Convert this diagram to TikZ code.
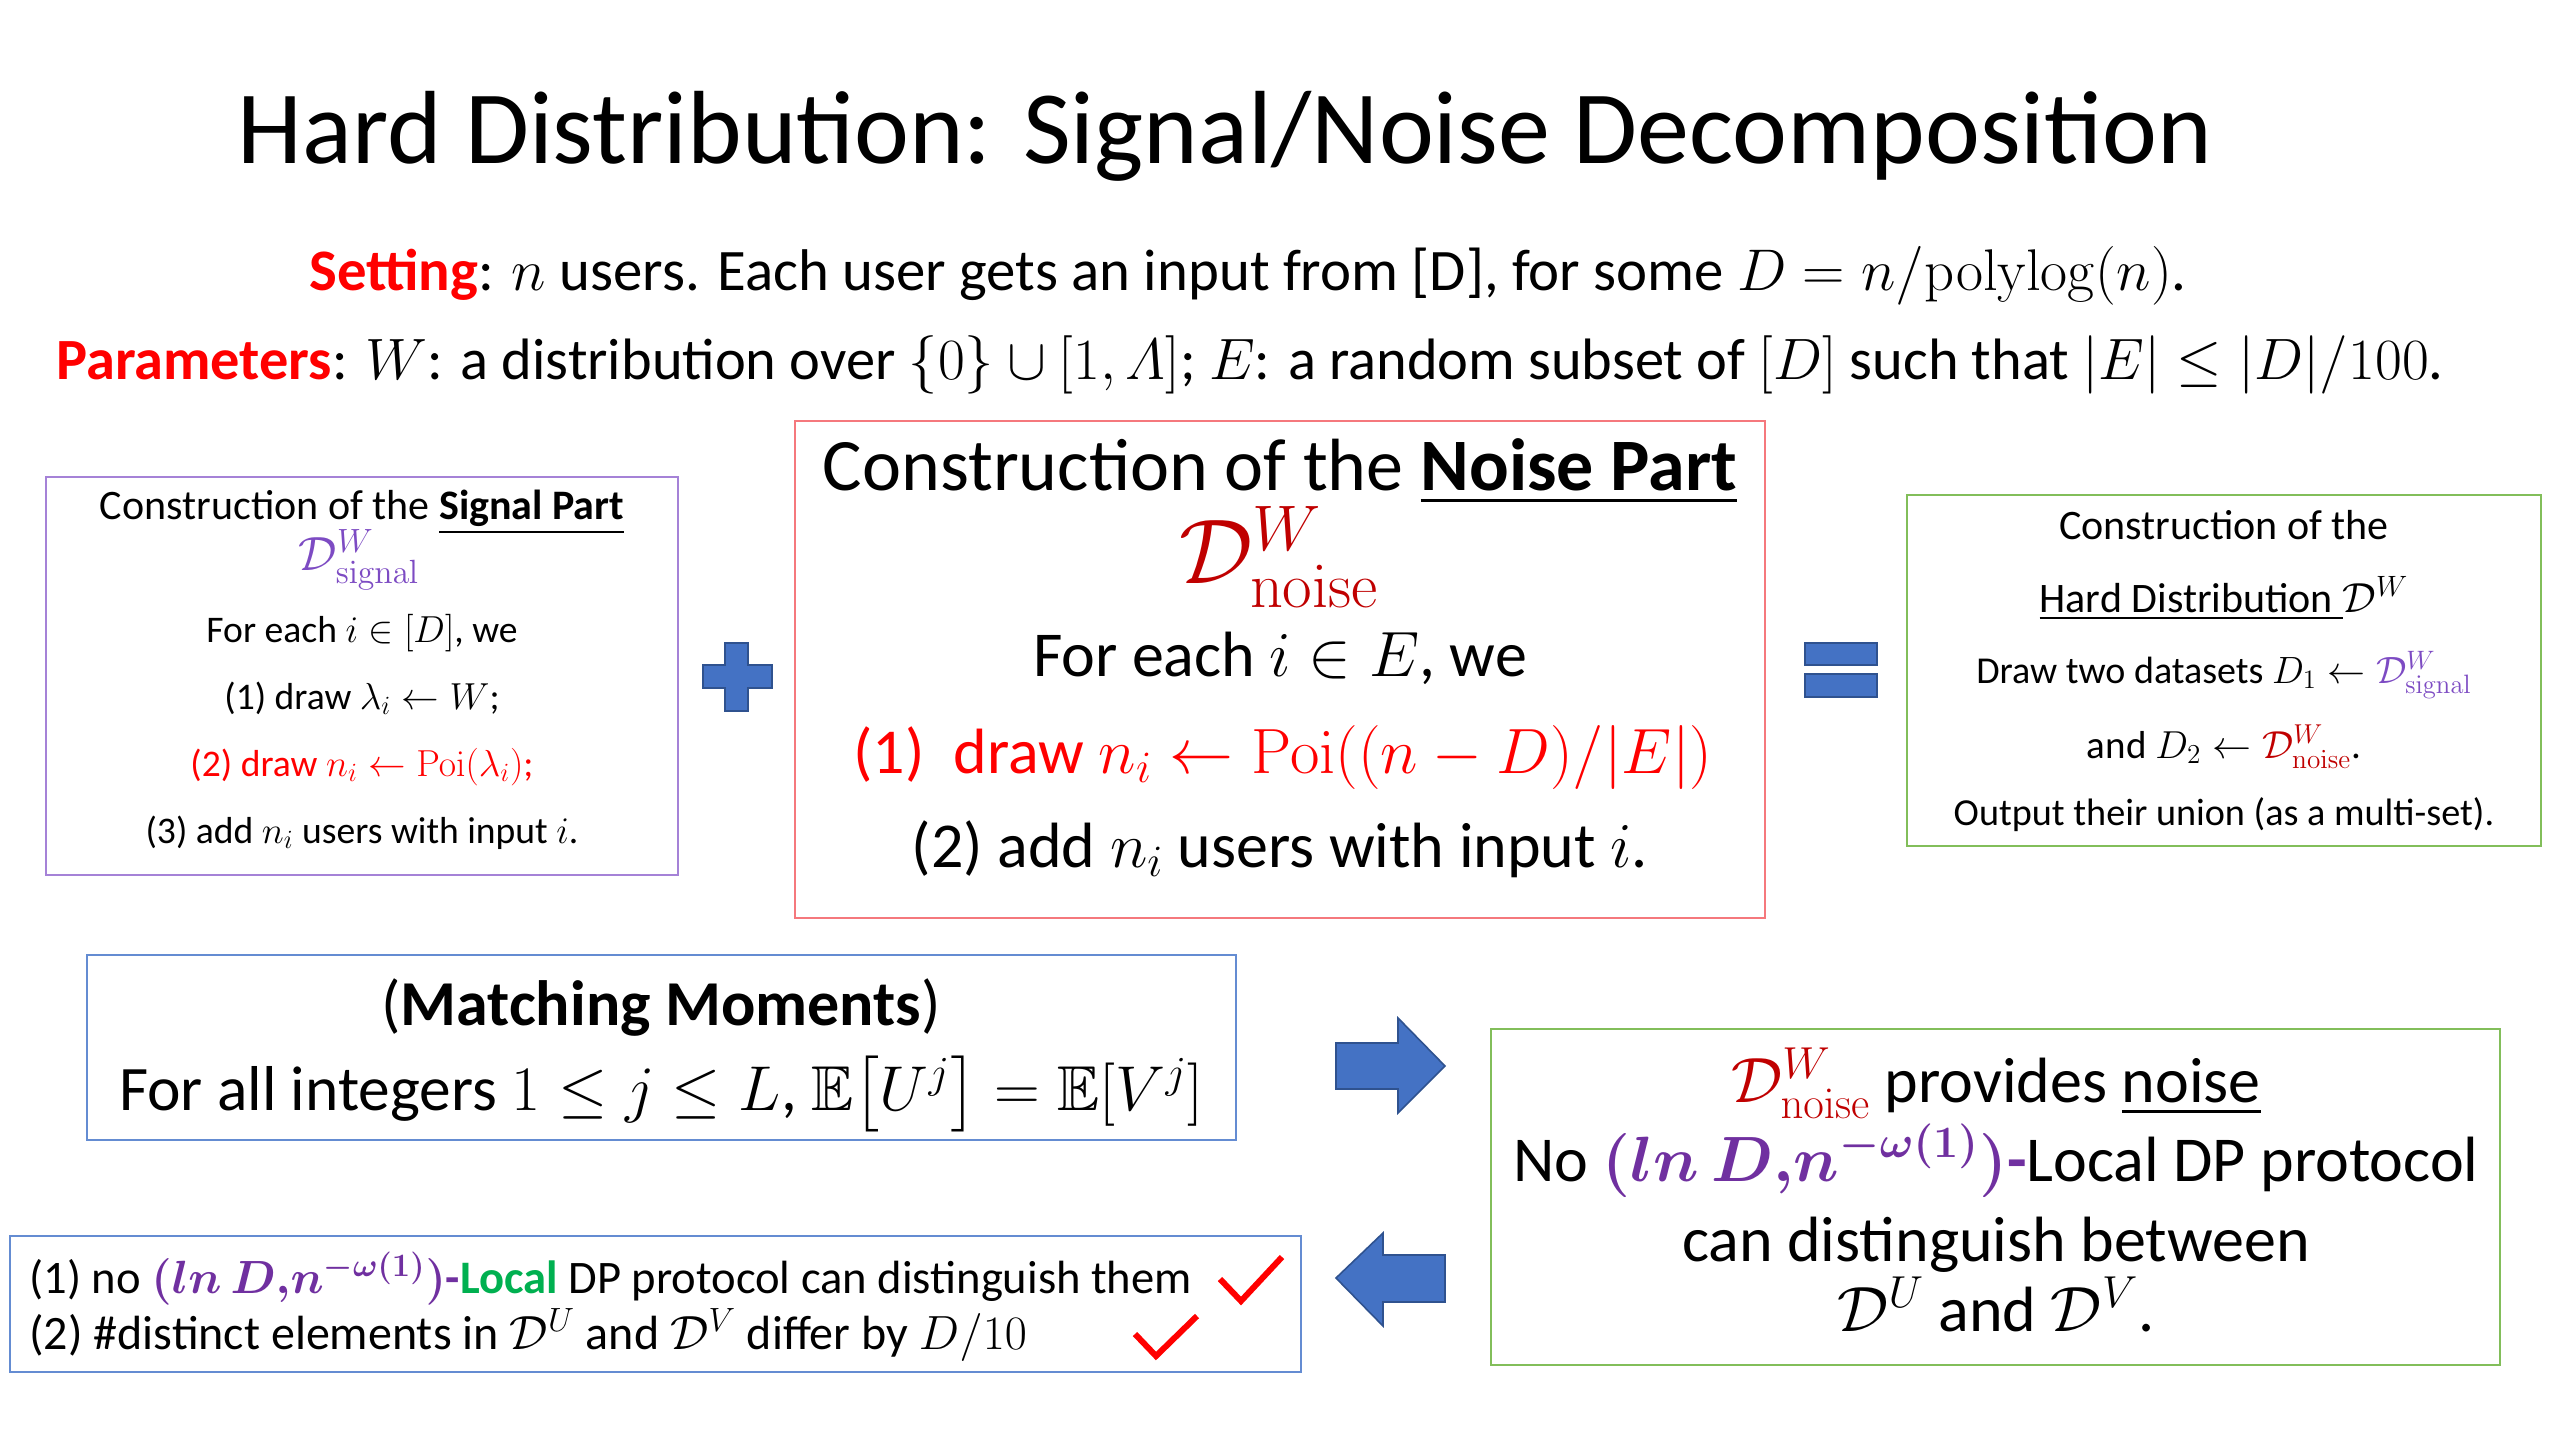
\RequirePackage{fix-cm}
\documentclass[tikz,border=0pt]{standalone}
\usepackage{amsmath,amssymb}
\usepackage[no-math]{fontspec}
\setmainfont{Carlito}
\definecolor{myred}{RGB}{255,0,0}
\definecolor{dred}{RGB}{192,0,0}
\definecolor{mpurple}{RGB}{112,48,160}
\definecolor{spurple}{RGB}{125,75,195}
\definecolor{mgreen}{RGB}{0,176,80}
\definecolor{bfill}{RGB}{68,114,196}
\definecolor{bedge}{RGB}{47,82,143}
\definecolor{sigborder}{RGB}{165,130,215}
\definecolor{noiseborder}{RGB}{245,120,125}
\definecolor{gborder}{RGB}{130,190,90}
\definecolor{bborder}{RGB}{100,140,210}
\newcommand\fsz[1]{\fontsize{#1}{#1}\selectfont}
\begin{document}
\begin{tikzpicture}[x=0.5pt,y=-0.5pt,
  boxframe/.style={draw=#1, line width=1.3pt, inner sep=0pt, fill=white},
  txt/.style={anchor=base, inner sep=0pt},
  blockshape/.style={fill=bfill, draw=bedge, line width=0.8pt},
  checkmark/.style={draw=myred, line width=3pt, line join=miter, line cap=butt}]
\fill[white] (0,0) rectangle (2560,1440);
\useasboundingbox (0,0) rectangle (2560,1440);

% title and header lines
\node[txt, font=\fsz{52}] (title) at (1225,163) {Hard Distribution: Signal/Noise Decomposition};
\node[txt, font=\fsz{29.4}] (setting) at (1248,290) {\textcolor{myred}{\textbf{Setting}}: $n$ users. Each user gets an input from [D], for some $D = n/\mathrm{polylog}(n)$.};
\node[txt, font=\fsz{29.2}] (params) at (1250,379) {\textcolor{myred}{\textbf{Parameters}}: $W$: a distribution over $\{0\}\cup[1,\varLambda]$; $E$: a random subset of $[D]$ such that $|E|\le|D|/100$.};

% signal box
\node[boxframe=sigborder, minimum width=316pt, minimum height=199pt] (sig) at (362,676) {};
\node[txt, font=\fsz{21}] (sig1) at (362,519) {Construction of the \underline{\textbf{Signal Part}}};
\node[inner sep=0pt, font=\fsz{24}, text=spurple] (sig2) at (359,560) {$\mathcal{D}^W_{\mathrm{signal}}$};
\node[txt, font=\fsz{18.8}] (sig3) at (362,642) {For each $i\in[D]$, we};
\node[txt, font=\fsz{18.8}] (sig4) at (362,709) {(1) draw $\lambda_i \leftarrow W$;};
\node[txt, font=\fsz{18.8}, text=myred] (sig5) at (362,776) {(2) draw $n_i \leftarrow \mathrm{Poi}(\lambda_i)$;};
\node[txt, font=\fsz{18.8}] (sig6) at (362,843) {(3) add $n_i$ users with input $i$.};

% plus
\fill[blockshape] (725,643) -- (748,643) -- (748,665) -- (772,665) -- (772,688) -- (748,688) -- (748,711) -- (725,711) -- (725,688) -- (703,688) -- (703,665) -- (725,665) -- cycle;

% noise box
\node[boxframe=noiseborder, minimum width=485pt, minimum height=248.5pt] (noise) at (1280,669.5) {};
\node[txt, font=\fsz{37}] (noise1) at (1280,490) {Construction of the \underline{\textbf{Noise Part}}};
\node[inner sep=0pt, font=\fsz{46}, text=dred] (noise2) at (1279,557) {$\mathcal{D}^W_{\mathrm{noise}}$};
\node[txt, font=\fsz{32}] (noise3) at (1280,676) {For each $i\in E$, we};
\node[txt, font=\fsz{32}, text=myred] (noise4) at (1283,773) {(1)~ draw $n_i \leftarrow \mathrm{Poi}((n-D)/|E|)$};
\node[txt, font=\fsz{32}] (noise5) at (1280,867) {(2) add $n_i$ users with input $i$.};

% equals
\fill[blockshape] (1805,643) rectangle (1877,665);
\fill[blockshape] (1805,674) rectangle (1877,697);

% hard distribution box
\node[boxframe=gborder, minimum width=317pt, minimum height=175.5pt] (hard) at (2224,670.5) {};
\node[txt, font=\fsz{21}] (hard1) at (2224,539) {Construction of the};
\node[txt, font=\fsz{21}] (hard2) at (2224,612) {\underline{Hard Distribution\ }$\mathcal{D}^W$};
\node[txt, font=\fsz{19}] (hard3) at (2224,683) {Draw two datasets $D_1 \leftarrow \textcolor{spurple}{\mathcal{D}^W_{\mathrm{signal}}}$};
\node[txt, font=\fsz{19.5}] (hard4) at (2224,758) {and $D_2 \leftarrow \textcolor{dred}{\mathcal{D}^W_{\mathrm{noise}}}$.};
\node[txt, font=\fsz{19.1}] (hard5) at (2224,825) {Output their union (as a multi-set).};

% matching moments box
\node[boxframe=bborder, minimum width=574.5pt, minimum height=92.5pt] (match) at (661.5,1047.5) {};
\node[txt, font=\fsz{32}] (match1) at (661,1025) {(\textbf{Matching Moments})};
\node[txt, font=\fsz{31.7}] (match2) at (661,1110) {For all integers $1 \le j \le L$, $\mathbb{E}\big[U^j\big] = \mathbb{E}[V^j]$};

% right arrow
\fill[blockshape] (1336,1043) -- (1398,1043) -- (1398,1018) -- (1445,1066) -- (1398,1113) -- (1398,1089) -- (1336,1089) -- cycle;
% left arrow
\fill[blockshape] (1336,1278) -- (1383,1233) -- (1383,1255) -- (1445,1255) -- (1445,1302) -- (1383,1302) -- (1383,1326) -- cycle;

% result box
\node[boxframe=gborder, minimum width=504.5pt, minimum height=168pt] (res) at (1995.5,1197) {};
\node[txt, font=\fsz{32}] (res1) at (1996,1102) {$\textcolor{dred}{\mathcal{D}^W_{\mathrm{noise}}}$ provides \underline{noise}};
\node[txt, font=\fsz{32}] (res2) at (1996,1181) {No \textcolor{mpurple}{\boldmath$(ln\,D,\! n^{-\omega(1)})$\textbf{-}}Local DP protocol};
\node[txt, font=\fsz{32}] (res3) at (1996,1261) {can distinguish between};
\node[txt, font=\fsz{32}] (res4) at (1996,1331) {$\mathcal{D}^U$ and $\mathcal{D}^V$.};

% bottom box
\node[boxframe=bborder, minimum width=645.5pt, minimum height=68pt] (bot) at (655.5,1304) {};
\node[txt, anchor=base west, font=\fsz{23.3}] (bot1) at (29,1293) {(1) no \textcolor{mpurple}{\boldmath$(ln\,D,\! n^{-\omega(1)})$\textbf{-}}\textcolor{mgreen}{\textbf{Local}} DP protocol can distinguish them};
\node[txt, anchor=base west, font=\fsz{24}] (bot2) at (29,1349) {(2) \#distinct elements in $\mathcal{D}^U$ and $\mathcal{D}^V$ differ by $D/10$};
\draw[checkmark] (1220,1279) -- (1241,1301) -- (1282,1257);
\draw[checkmark] (1135,1334) -- (1156,1356) -- (1197,1316);
\end{tikzpicture}
\end{document}
